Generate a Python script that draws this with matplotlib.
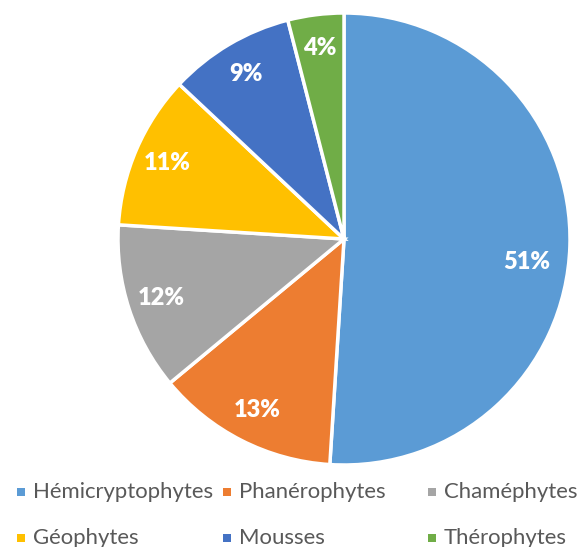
import matplotlib
matplotlib.use("Agg")
import matplotlib.pyplot as plt
import numpy as np
from matplotlib.patches import Rectangle

categories = ["Hémicryptophytes", "Phanérophytes", "Chaméphytes", "Géophytes", "Mousses", "Thérophytes"]
values = [51, 13, 12, 11, 9, 4]
colors = ["#5B9BD5", "#ED7D31", "#A5A5A5", "#FFC000", "#4472C4", "#70AD47"]

plt.rcParams['font.family'] = ['Lato', 'DejaVu Sans']

W, H = 581, 547
fig = plt.figure(figsize=(W/100, H/100), dpi=100)
cx, cy, R = 344, 239, 226
ax = fig.add_axes([(cx-R)/W, (H-cy-R)/H, 2*R/W, 2*R/H])
wedges, texts, autotexts = ax.pie(values, colors=colors, startangle=90, counterclock=False,
       autopct=lambda p: f"{p:.0f}%", pctdistance=0.85,
       wedgeprops=dict(edgecolor="white", linewidth=2.5),
       textprops=dict(color="white", fontsize=17, fontweight="heavy"))
# the largest label sits a little lower, as in the original (best-fit placement)
big = int(np.argmax(values))
autotexts[big].set_position((0.81, -0.10))
ax.set_xlim(-1, 1); ax.set_ylim(-1, 1)
ax.set_aspect("equal")
ax.axis("off")

# legend: 3 equal-width columns, 2 rows
col_x = [17, 223, 428]
row_y = [492, 538]
for i, (lab, col) in enumerate(zip(categories, colors)):
    x = col_x[i % 3]; y = row_y[i // 3]
    fig.patches.append(Rectangle((x/W, (H-y-4)/H), 8/W, 8/H, transform=fig.transFigure,
                                 facecolor=col, edgecolor="none"))
    fig.text((x+16)/W, (H-y)/H, lab, fontsize=15.9, color="#595959", va="center", ha="left")

fig.savefig("out.png", dpi=100)
